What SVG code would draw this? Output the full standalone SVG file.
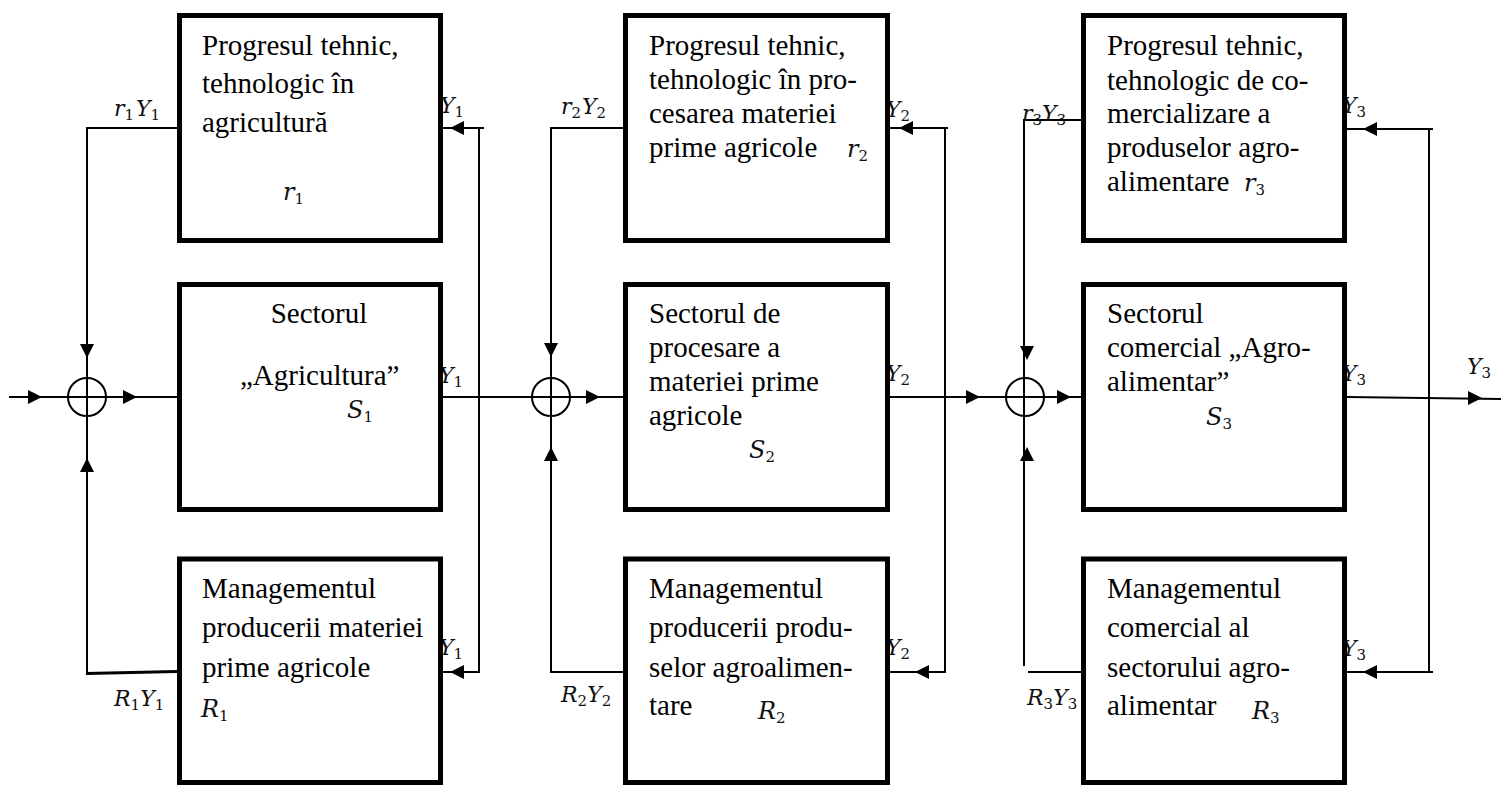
<svg xmlns="http://www.w3.org/2000/svg" width="1501" height="785" viewBox="0 0 1501 785">
<style>
.box{fill:#fff;stroke:#000;stroke-width:5}
.ln{fill:none;stroke:#000;stroke-width:2}
.sum{fill:none;stroke:#000;stroke-width:2}
.t{font-family:'Liberation Serif','Times New Roman','DejaVu Serif',serif;font-size:29px;fill:#000}
.m{font-family:'DejaVu Serif',serif;font-style:italic;font-size:22px;fill:#111}
.mb{font-family:'DejaVu Serif',serif;font-style:italic;font-size:24px;fill:#111}
.s{font-style:normal;font-size:15px}
</style>
<defs>
<path id="ah" d="M0,0 L-14,-7 L-14,7 Z" fill="#000"/>
</defs>
<rect width="1501" height="785" fill="#fff"/>

<g id="connectors">
<!-- column 1 -->
<line class="ln" x1="9" y1="397" x2="177" y2="397"/>
<line class="ln" x1="87" y1="128" x2="87" y2="673"/>
<line class="ln" x1="86" y1="128" x2="177" y2="128"/>
<line class="ln" x1="86" y1="673.5" x2="177" y2="671.5" style="stroke-width:3"/>
<line class="ln" x1="443" y1="397" x2="623" y2="397"/>
<line class="ln" x1="479" y1="127" x2="479" y2="673"/>
<line class="ln" x1="443" y1="128" x2="484" y2="128"/>
<line class="ln" x1="443" y1="672" x2="480" y2="672"/>
<use href="#ah" transform="translate(42,397)"/>
<use href="#ah" transform="translate(137,397)"/>
<use href="#ah" transform="translate(87,358) rotate(90)"/>
<use href="#ah" transform="translate(87,458) rotate(-90)"/>
<use href="#ah" transform="translate(450,128) rotate(180)"/>
<use href="#ah" transform="translate(450,672) rotate(180)"/>
<!-- column 2 -->
<line class="ln" x1="551" y1="128" x2="551" y2="673"/>
<line class="ln" x1="550" y1="128" x2="623" y2="128"/>
<line class="ln" x1="550" y1="672" x2="623" y2="672"/>
<line class="ln" x1="890" y1="397" x2="1081" y2="397"/>
<line class="ln" x1="945" y1="127" x2="945" y2="673"/>
<line class="ln" x1="890" y1="128" x2="948" y2="128"/>
<line class="ln" x1="890" y1="672" x2="946" y2="672"/>
<use href="#ah" transform="translate(600,397)"/>
<use href="#ah" transform="translate(551,357) rotate(90)"/>
<use href="#ah" transform="translate(551,447) rotate(-90)"/>
<use href="#ah" transform="translate(899,128) rotate(180)"/>
<use href="#ah" transform="translate(915,672) rotate(180)"/>
<use href="#ah" transform="translate(980,397)"/>
<!-- column 3 -->
<line class="ln" x1="1024" y1="120" x2="1024" y2="666"/>
<line class="ln" x1="1023" y1="120" x2="1081" y2="120"/>
<line class="ln" x1="1028" y1="672" x2="1081" y2="672"/>
<line class="ln" x1="1347" y1="397" x2="1501" y2="399"/>
<line class="ln" x1="1429" y1="128" x2="1429" y2="673"/>
<line class="ln" x1="1347" y1="129" x2="1433" y2="129"/>
<line class="ln" x1="1347" y1="672" x2="1433" y2="672"/>
<use href="#ah" transform="translate(1071,397)"/>
<use href="#ah" transform="translate(1027,360) rotate(90)"/>
<use href="#ah" transform="translate(1027,447) rotate(-90)"/>
<use href="#ah" transform="translate(1363,129) rotate(180)"/>
<use href="#ah" transform="translate(1363,672) rotate(180)"/>
<use href="#ah" transform="translate(1482,398)"/>

<!-- connector labels -->
<text class="m" x="114" y="116">r<tspan class="s" dy="4">1</tspan><tspan dx="2" dy="-4">Y</tspan><tspan class="s" dy="4">1</tspan></text>
<text class="m" x="440" y="113">Y<tspan class="s" dy="4">1</tspan></text>
<text class="m" x="439" y="383">Y<tspan class="s" dy="4">1</tspan></text>
<text class="m" x="439" y="655">Y<tspan class="s" dy="4">1</tspan></text>
<text class="m" x="114" y="706">R<tspan class="s" dy="4">1</tspan><tspan dy="-4">Y</tspan><tspan class="s" dy="4">1</tspan></text>
<text class="m" x="561" y="114">r<tspan class="s" dy="4">2</tspan><tspan dx="1" dy="-4">Y</tspan><tspan class="s" dy="4">2</tspan></text>
<text class="m" x="886" y="117">Y<tspan class="s" dy="4">2</tspan></text>
<text class="m" x="886" y="381">Y<tspan class="s" dy="4">2</tspan></text>
<text class="m" x="886" y="655">Y<tspan class="s" dy="4">2</tspan></text>
<text class="m" x="561" y="702">R<tspan class="s" dy="4">2</tspan><tspan dy="-4">Y</tspan><tspan class="s" dy="4">2</tspan></text>
<text class="m" x="1022" y="121">r<tspan class="s" dy="4">3</tspan><tspan dy="-4">Y</tspan><tspan class="s" dy="4">3</tspan></text>
<text class="m" x="1342" y="113">Y<tspan class="s" dy="4">3</tspan></text>
<text class="m" x="1342" y="381">Y<tspan class="s" dy="4">3</tspan></text>
<text class="m" x="1467" y="374">Y<tspan class="s" dy="4">3</tspan></text>
<text class="m" x="1342" y="656">Y<tspan class="s" dy="4">3</tspan></text>
<text class="m" x="1027" y="705">R<tspan class="s" dy="4">3</tspan><tspan dy="-4">Y</tspan><tspan class="s" dy="4">3</tspan></text>
</g>

<g id="sum1"><circle class="sum" cx="87" cy="397" r="19"/></g>
<g id="sum2"><circle class="sum" cx="551" cy="397" r="19"/></g>
<g id="sum3"><circle class="sum" cx="1025" cy="397" r="19"/></g>

<g id="node-r1">
<rect class="box" x="179.5" y="15.5" width="261" height="225"/>
<text class="t" x="202" y="55">Progresul tehnic,</text>
<text class="t" x="202" y="93">tehnologic în</text>
<text class="t" x="202" y="132">agricultură</text>
<text class="mb" x="283" y="200">r<tspan class="s" dy="4">1</tspan></text>
</g>
<g id="node-s1">
<rect class="box" x="179.5" y="284.5" width="261" height="225"/>
<text class="t" x="319" y="323" text-anchor="middle">Sectorul</text>
<text class="t" x="240" y="385">„Agricultura”</text>
<text class="mb" x="347" y="418">S<tspan class="s" dy="4">1</tspan></text>
</g>
<g id="node-R1">
<rect class="box" x="179.5" y="559" width="261" height="223.5"/>
<text class="t" x="202" y="598">Managementul</text>
<text class="t" x="202" y="637">producerii materiei</text>
<text class="t" x="202" y="677">prime agricole</text>
<text class="mb" x="201" y="717">R<tspan class="s" dy="4">1</tspan></text>
</g>

<g id="node-r2">
<rect class="box" x="625.5" y="15.5" width="262" height="225"/>
<text class="t" x="649" y="55">Progresul tehnic,</text>
<text class="t" x="649" y="89">tehnologic în pro-</text>
<text class="t" x="649" y="123">cesarea materiei</text>
<text class="t" x="649" y="157">prime agricole</text>
<text class="mb" x="847" y="157">r<tspan class="s" dy="4">2</tspan></text>
</g>
<g id="node-s2">
<rect class="box" x="625.5" y="284.5" width="262" height="225"/>
<text class="t" x="649" y="323">Sectorul de</text>
<text class="t" x="649" y="357">procesare a</text>
<text class="t" x="649" y="391">materiei prime</text>
<text class="t" x="649" y="425">agricole</text>
<text class="mb" x="749" y="458">S<tspan class="s" dy="4">2</tspan></text>
</g>
<g id="node-R2">
<rect class="box" x="625.5" y="559" width="262" height="223.5"/>
<text class="t" x="649" y="598">Managementul</text>
<text class="t" x="649" y="637">producerii produ-</text>
<text class="t" x="649" y="677">selor agroalimen-</text>
<text class="t" x="649" y="715">tare</text>
<text class="mb" x="758" y="719">R<tspan class="s" dy="4">2</tspan></text>
</g>

<g id="node-r3">
<rect class="box" x="1083.5" y="15.5" width="261" height="225"/>
<text class="t" x="1107" y="55">Progresul tehnic,</text>
<text class="t" x="1107" y="90">tehnologic de co-</text>
<text class="t" x="1107" y="123">mercializare a</text>
<text class="t" x="1107" y="157">produselor agro-</text>
<text class="t" x="1107" y="191">alimentare</text>
<text class="mb" x="1244" y="191">r<tspan class="s" dy="4">3</tspan></text>
</g>
<g id="node-s3">
<rect class="box" x="1083.5" y="284.5" width="261" height="225"/>
<text class="t" x="1107" y="323">Sectorul</text>
<text class="t" x="1107" y="357">comercial „Agro-</text>
<text class="t" x="1107" y="391">alimentar”</text>
<text class="mb" x="1206" y="425">S<tspan class="s" dy="4">3</tspan></text>
</g>
<g id="node-R3">
<rect class="box" x="1083.5" y="559" width="261" height="223.5"/>
<text class="t" x="1107" y="598">Managementul</text>
<text class="t" x="1107" y="637">comercial al</text>
<text class="t" x="1107" y="677">sectorului agro-</text>
<text class="t" x="1107" y="715">alimentar</text>
<text class="mb" x="1252" y="719">R<tspan class="s" dy="4">3</tspan></text>
</g>
</svg>
